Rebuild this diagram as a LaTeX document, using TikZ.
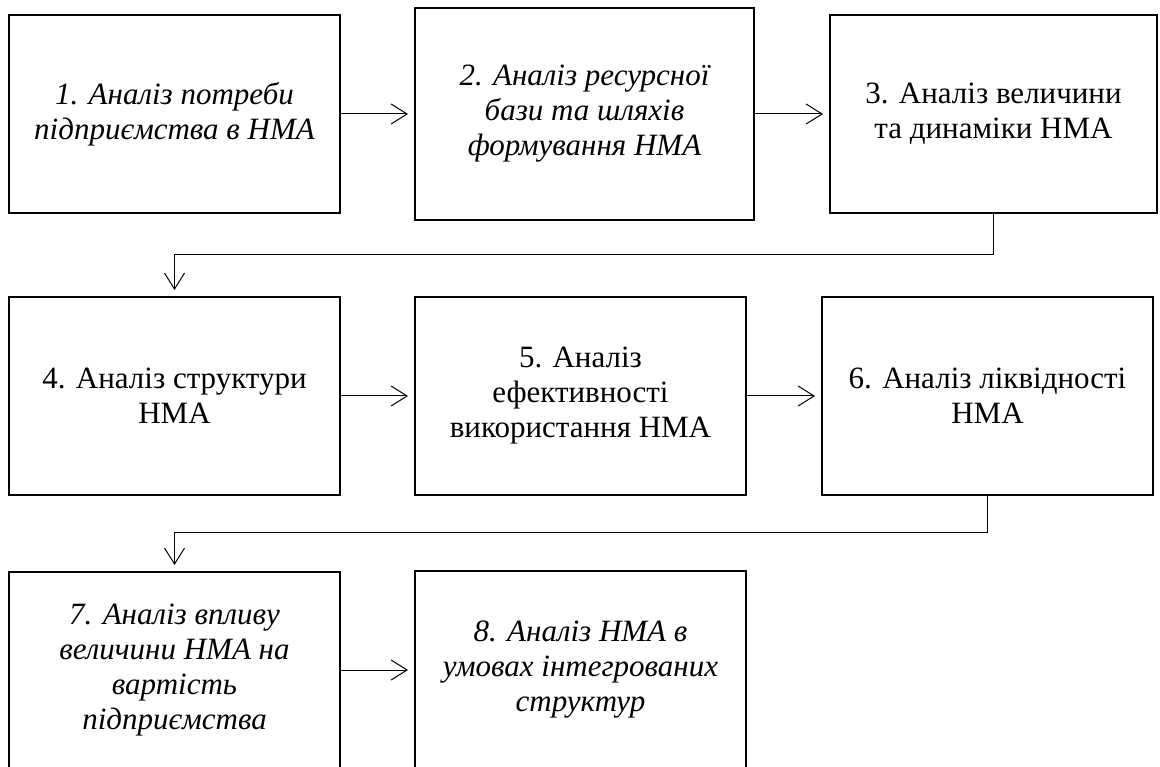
\documentclass[tikz,border=0pt]{standalone}
\usepackage{fontspec}
\setmainfont{Liberation Serif}
\usetikzlibrary{arrows.meta}
\begin{document}
\begin{tikzpicture}[x=1pt,y=-1pt,
  box/.style={draw, line width=2pt, rectangle, inner sep=0pt, align=center,
    font=\fontsize{31}{35}\selectfont},
  itbox/.style={box, font=\fontsize{31}{35}\selectfont\itshape},
  conn/.style={line width=1pt, -{Straight Barb[length=16pt,width=20pt,line width=1pt]}, shorten >=6pt}
]
\useasboundingbox (0,0) rectangle (1160,767);
\node[itbox, minimum width=331pt, minimum height=198pt] (b1) at (174.5,114) {1. Аналіз потреби\\підприємства в НМА};
\node[itbox, minimum width=339pt, minimum height=212pt] (b2) at (584.5,114) {2. Аналіз ресурсної\\бази та шляхів\\формування НМА};
\node[box, minimum width=327pt, minimum height=198pt] (b3) at (993.5,114) {3. Аналіз величини\\та динаміки НМА};
\node[box, minimum width=331pt, minimum height=198pt] (b4) at (174.5,396) {4. Аналіз структури\\НМА};
\node[box, minimum width=331pt, minimum height=198pt] (b5) at (580.5,396) {5. Аналіз\\ефективності\\використання НМА};
\node[box, minimum width=331pt, minimum height=198pt] (b6) at (987.5,396) {6. Аналіз ліквідності\\НМА};
\node[itbox, minimum width=331pt, minimum height=197pt] (b7) at (174.5,670.5) {7. Аналіз впливу\\величини НМА на\\вартість\\підприємства};
\node[itbox, minimum width=331pt, minimum height=198pt] (b8) at (580.5,670) {8. Аналіз НМА в\\умовах інтегрованих\\структур};
\coordinate (t1) at (993.5,255);
\coordinate (t2) at (174.5,255);
\coordinate (u1) at (987.5,532);
\coordinate (u2) at (174.5,532);
\draw[conn] (b1) -- (b2);
\draw[conn] (b2) -- (b3);
\draw[conn] (b3.south) -- (t1) -- (t2) -- (b4.north);
\draw[conn] (b4) -- (b5);
\draw[conn] (b5) -- (b6);
\draw[conn] (b6.south) -- (u1) -- (u2) -- (b7.north);
\draw[conn] (b7.east |- b8.west) -- (b8.west);
\end{tikzpicture}
\end{document}
